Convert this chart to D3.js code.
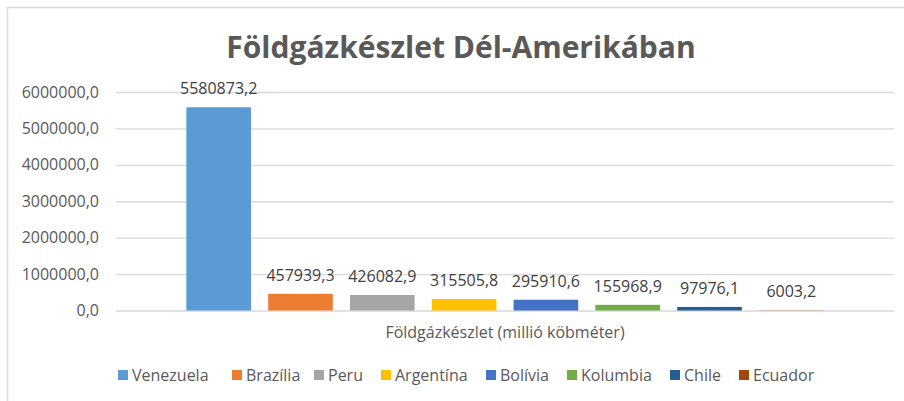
<!DOCTYPE html>
<html lang="hu">
<head>
    <meta charset="UTF-8">
    <title>Földgázkészlet Dél-Amerikában</title>
    <script src="https://d3js.org/d3.v7.min.js"></script>
    <style>
        body { margin: 0; background: #fff; }
        text { font-family: "Open Sans", sans-serif; fill: #595959; }
    </style>
</head>
<body>
<svg width="904" height="401"></svg>
<script type="text/javascript">

    // chart data
    var countries = ["Venezuela", "Brazília", "Peru", "Argentína", "Bolívia", "Kolumbia", "Chile", "Ecuador"];
    var reserves  = [5580873.2, 457939.3, 426082.9, 315505.8, 295910.6, 155968.9, 97976.1, 6003.2];
    var colors    = ["#5B9BD5", "#ED7D31", "#A5A5A5", "#FFC000", "#4472C4", "#70AD47", "#255E91", "#9E480E"];
    var yTicks    = [0, 1000000, 2000000, 3000000, 4000000, 5000000, 6000000];
    var categoryLabel = "Földgázkészlet (millió köbméter)";

    var svg = d3.select("svg");

    // chart area border (only top + left are inside the picture)
    svg.append("rect")
        .attr("x", 7.5).attr("y", 7.5)
        .attr("width", 920).attr("height", 420)
        .attr("fill", "none")
        .attr("stroke", "#d9d9d9")
        .attr("stroke-width", 1.5);

    var plot = { left: 116, right: 894, top: 92, bottom: 310.5 };

    var y = d3.scaleLinear()
        .domain([0, 6000000])
        .range([plot.bottom, plot.top]);

    var x = d3.scaleBand()
        .domain(countries)
        .range([plot.left, plot.right])
        .paddingInner(0.21)
        .paddingOuter(0.86);

    // comma as decimal separator
    var huFormat = d3.formatLocale({ decimal: ",", thousands: "", grouping: [3], currency: ["", " Ft"] }).format(".1f");

    // gridlines + tick labels
    var yAxis = d3.axisLeft(y)
        .tickValues(yTicks)
        .tickSize(-(plot.right - plot.left))
        .tickPadding(17)
        .tickFormat(huFormat);

    var gy = svg.append("g")
        .attr("transform", "translate(" + plot.left + ",0)")
        .call(yAxis);
    gy.select(".domain").remove();
    gy.selectAll(".tick line").attr("stroke", "#d9d9d9").attr("stroke-width", 1.3);
    gy.selectAll(".tick text")
        .style("font-size", "16px")
        .attr("fill", "#595959")
        .attr("font-family", "Open Sans");

    // bars
    svg.selectAll("rect.bar")
        .data(countries)
        .enter().append("rect")
        .attr("class", "bar")
        .attr("x", function(d) { return x(d); })
        .attr("width", x.bandwidth())
        .attr("y", function(d, i) { return y(reserves[i]); })
        .attr("height", function(d, i) { return plot.bottom - y(reserves[i]); })
        .attr("fill", function(d, i) { return colors[i]; });

    // data labels
    svg.selectAll("text.val")
        .data(countries)
        .enter().append("text")
        .attr("class", "val")
        .attr("x", function(d) { return x(d) + x.bandwidth() / 2; })
        .attr("y", function(d, i) { return y(reserves[i]) - 13; })
        .attr("text-anchor", "middle")
        .style("font-size", "16px")
        .style("fill", "#404040")
        .text(function(d, i) { return huFormat(reserves[i]); });

    // category label under the axis
    svg.append("text")
        .attr("x", 505)
        .attr("y", 338)
        .attr("text-anchor", "middle")
        .style("font-size", "16px")
        .text(categoryLabel);

    // title
    svg.append("text")
        .attr("x", 461)
        .attr("y", 58)
        .attr("text-anchor", "middle")
        .style("font-size", "30px")
        .style("font-weight", "bold")
        .text("Földgázkészlet Dél-Amerikában");

    // legend
    var legendX = [118, 232, 314, 381, 486, 567, 670, 739];
    var legend = svg.selectAll("g.leg")
        .data(countries)
        .enter().append("g")
        .attr("class", "leg")
        .attr("transform", function(d, i) { return "translate(" + legendX[i] + ",375)"; });
    legend.append("rect")
        .attr("x", 0).attr("y", -5)
        .attr("width", 10).attr("height", 10)
        .attr("fill", function(d, i) { return colors[i]; });
    legend.append("text")
        .attr("x", 14)
        .attr("y", 6)
        .style("font-size", "16px")
        .text(function(d) { return d; });

</script>
</body>
</html>
